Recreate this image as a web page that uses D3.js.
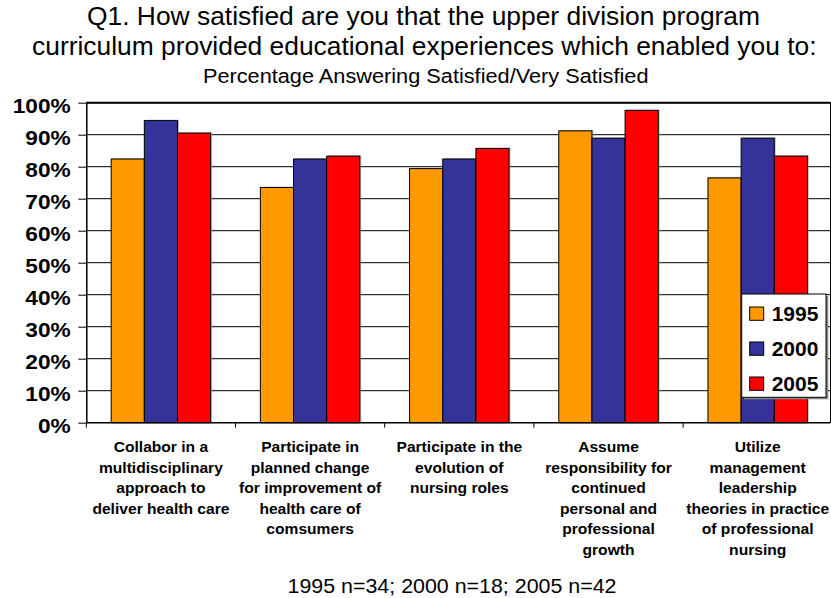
<!DOCTYPE html>
<html><head><meta charset="utf-8">
<script src="https://cdn.jsdelivr.net/npm/d3@7"></script>
<style>body{margin:0;background:#fff}svg{display:block}text{font-family:"Liberation Sans",Arial,sans-serif}</style>
</head><body><div id="chart"></div>
<script>
const categories = [
  ["Collabor in a","multidisciplinary","approach to","deliver health care"],
  ["Participate in","planned change","for improvement of","health care of","comsumers"],
  ["Participate in the","evolution of","nursing roles"],
  ["Assume","responsibility for","continued","personal and","professional","growth"],
  ["Utilize","management","leadership","theories in practice","of professional","nursing"]
];
const seriesNames = ["1995","2000","2005"];
const v1995 = [82.4, 73.5, 79.4, 91.2, 76.5];
const v2000 = [94.4, 82.4, 82.4, 88.9, 88.9];
const v2005 = [90.5, 83.3, 85.7, 97.6, 83.3];
const yTicks = [0,10,20,30,40,50,60,70,80,90,100];
const titleLines = ["Q1. How satisfied are you that the upper division program","curriculum provided educational experiences which enabled you to:"];
const subtitle = "Percentage Answering Satisfied/Very Satisfied";
const footnote = "1995 n=34; 2000 n=18; 2005 n=42";
const colors = ["#FF9900","#333399","#FF0000"];

(function(){
const FF = '"Liberation Sans",Arial,sans-serif';
const W = 831, H = 598;
const svg = d3.select("#chart").append("svg").attr("width",W).attr("height",H).attr("font-family",FF);
const pL = 86.3, pR = 830.5, pT = 102.7, pB = 422.7;
const x = d3.scaleBand().domain(d3.range(categories.length)).range([pL, pL + 149.2*5]).paddingInner(0).paddingOuter(0);
const y = d3.scaleLinear().domain([0,100]).range([pB, pT]);
const xs = d3.scaleBand().domain(seriesNames).range([0, x.bandwidth()]).paddingInner(0).paddingOuter(0.75);
const series = [v1995, v2000, v2005];

svg.append("g").selectAll("line").data(yTicks.filter(t=>t>0)).join("line")
  .attr("x1",pL).attr("x2",pR).attr("y1",d=>y(d)).attr("y2",d=>y(d))
  .attr("stroke","#000").attr("stroke-width",1);
svg.append("line").attr("x1",pL).attr("x2",pR).attr("y1",y(100)).attr("y2",y(100)).attr("stroke","#000").attr("stroke-width",2);
svg.append("line").attr("x1",pR).attr("x2",pR).attr("y1",pT).attr("y2",pB).attr("stroke","#000").attr("stroke-width",1);

const g = svg.append("g");
series.forEach((vals, si) => {
  g.append("g").selectAll("rect").data(vals).join("rect")
    .attr("x",(d,i)=>x(i)+xs(seriesNames[si])+1.5).attr("y",d=>y(d)-1)
    .attr("width",xs.bandwidth()).attr("height",d=>pB-y(d)+1)
    .attr("fill","#999").attr("opacity",0.6);
});
series.forEach((vals, si) => {
  g.append("g").selectAll("rect").data(vals).join("rect")
    .attr("x",(d,i)=>x(i)+xs(seriesNames[si])).attr("y",d=>y(d))
    .attr("width",xs.bandwidth()).attr("height",d=>pB-y(d))
    .attr("fill",colors[si]).attr("stroke","#000").attr("stroke-width",1);
});

const ya = svg.append("g").attr("transform",`translate(${pL},0)`)
  .call(d3.axisLeft(y).tickValues(yTicks).tickFormat(d=>d+"%").tickSize(8).tickSizeOuter(0));
ya.attr("font-family",FF);
ya.select(".domain").attr("stroke","#000").attr("stroke-width",1.5);
ya.selectAll(".tick line").attr("stroke","#000");
ya.selectAll(".tick text").attr("font-size",21).attr("font-weight","bold").attr("fill","#000")
  .attr("x",-14.5).attr("dy",null).attr("y",9.5)
  .attr("transform","scale(1.08,1)");

const xa = svg.append("g").attr("transform",`translate(0,${pB})`)
  .call(d3.axisBottom(x).tickValues([]).tickSizeOuter(0));
xa.select(".domain").attr("stroke","#000").attr("stroke-width",1.5).attr("d",`M${pL},0H${pR}`);
const tickPos = d3.range(categories.length+1).map(i => i < categories.length ? x(i) : x(categories.length-1)+x.bandwidth()).filter(p=>p<=W);
xa.selectAll("line.t").data(tickPos).join("line").attr("x1",d=>d).attr("x2",d=>d).attr("y1",0).attr("y2",5).attr("stroke","#000");

categories.forEach((lines,i)=>{
  const cx = x(i)+x.bandwidth()/2;
  const t = svg.append("text").attr("text-anchor","middle").attr("font-size",15).attr("font-weight","bold")
    .attr("transform",`translate(${cx},0) scale(1.04,1)`);
  lines.forEach((ln,k)=>t.append("tspan").attr("x",0).attr("y",452.5+k*20.5).text(ln));
});

svg.append("text").attr("text-anchor","middle").attr("font-size",25)
  .attr("transform","translate(423.5,25) scale(1.056,1)").text(titleLines[0]);
svg.append("text").attr("text-anchor","middle").attr("font-size",25)
  .attr("transform","translate(424.3,54.5) scale(1.056,1)").text(titleLines[1]);
svg.append("text").attr("text-anchor","middle").attr("font-size",21)
  .attr("transform","translate(425.7,83.3) scale(1.035,1)").text(subtitle);
svg.append("text").attr("text-anchor","middle").attr("font-size",20)
  .attr("transform","translate(452,593) scale(1.07,1)").text(footnote);

const lg = svg.append("g");
lg.append("rect").attr("x",744).attr("y",296).attr("width",84.3).attr("height",103.3).attr("fill","#888");
lg.append("rect").attr("x",741.7).attr("y",294).attr("width",84.3).attr("height",103.3).attr("fill","#fff").attr("stroke","#000").attr("stroke-width",1);
seriesNames.forEach((n,i)=>{
  lg.append("rect").attr("x",749.7).attr("y",307+i*35).attr("width",14).attr("height",13.3)
    .attr("fill",colors[i]).attr("stroke","#000").attr("stroke-width",1);
  lg.append("text").attr("x",771.7).attr("y",320.7+i*35).attr("font-size",21).attr("font-weight","bold").text(n);
});
})();
</script></body></html>
